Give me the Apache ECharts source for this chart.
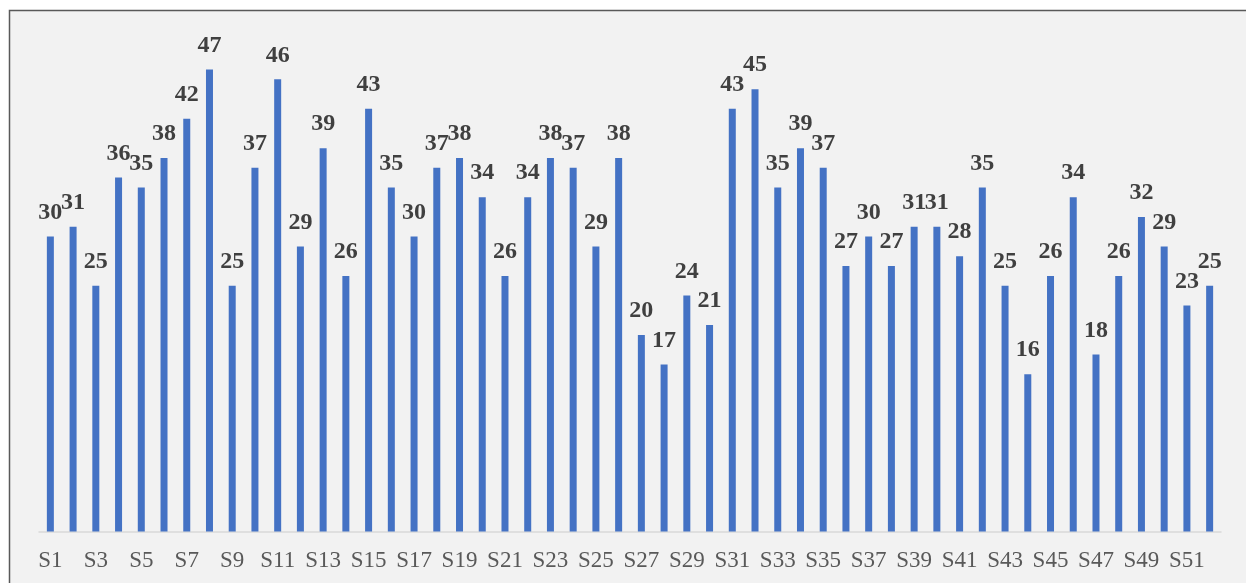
<!DOCTYPE html>
<html>
<head>
<meta charset="utf-8">
<script src="https://cdn.jsdelivr.net/npm/echarts@6/dist/echarts.min.js"></script>
<style>
  html, body { margin: 0; padding: 0; background: #ffffff; }
  #chart { width: 1246px; height: 583px; }
</style>
</head>
<body>
<div id="chart"></div>
<script>
// Sample labels S1..S52
const categories = [
  'S1','S2','S3','S4','S5','S6','S7','S8','S9','S10',
  'S11','S12','S13','S14','S15','S16','S17','S18','S19','S20',
  'S21','S22','S23','S24','S25','S26','S27','S28','S29','S30',
  'S31','S32','S33','S34','S35','S36','S37','S38','S39','S40',
  'S41','S42','S43','S44','S45','S46','S47','S48','S49','S50',
  'S51','S52'
];

// Value per sample
const values = [
  30, 31, 25, 36, 35, 38, 42, 47, 25, 37,
  46, 29, 39, 26, 43, 35, 30, 37, 38, 34,
  26, 34, 38, 37, 29, 38, 20, 17, 24, 21,
  43, 45, 35, 39, 37, 27, 30, 27, 31, 31,
  28, 35, 25, 16, 26, 34, 18, 26, 32, 29,
  23, 25
];

const chart = echarts.init(document.getElementById('chart'), null, { renderer: 'canvas' });

chart.setOption({
  backgroundColor: '#ffffff',
  animation: false,
  graphic: [{
    type: 'rect',
    z: -10,
    silent: true,
    shape: { x: 9.5, y: 10.5, width: 1300, height: 650 },
    style: { fill: '#f2f2f2', stroke: '#595959', lineWidth: 1.5 }
  }],
  grid: { left: 39, right: 25, top: 40, bottom: 51.5, containLabel: false },
  xAxis: {
    type: 'category',
    data: categories,
    axisLine: { show: true, lineStyle: { color: '#d9d9d9', width: 1.5 } },
    axisTick: { show: false },
    axisLabel: {
      interval: 1,
      margin: 18,
      color: '#595959',
      fontFamily: 'Liberation Serif',
      fontSize: 23
    }
  },
  yAxis: {
    type: 'value',
    min: 0,
    max: 50,
    show: false,
    splitLine: { show: false }
  },
  series: [{
    type: 'bar',
    data: values,
    barWidth: 7,
    itemStyle: { color: '#4472c4' },
    label: {
      show: true,
      position: 'top',
      distance: 12,
      color: '#404040',
      fontFamily: 'Liberation Serif',
      fontWeight: 'bold',
      fontSize: 24
    }
  }]
});
</script>
</body>
</html>
